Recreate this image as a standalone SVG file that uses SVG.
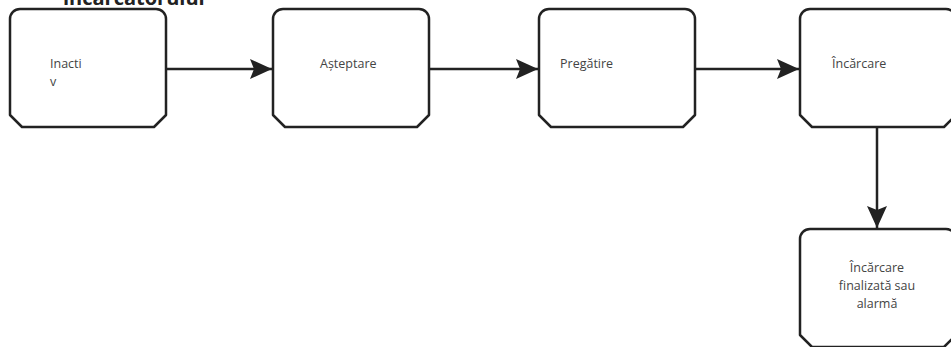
<svg xmlns="http://www.w3.org/2000/svg" width="951" height="347" viewBox="0 0 951 347">
<defs>
<style>
.box{fill:#fff;stroke:#222;stroke-width:2.5;stroke-linejoin:round}
.lbl{font-family:"Open Sans","Noto Sans",sans-serif;font-size:12.5px;fill:#444}
.title{font-family:"Open Sans","Noto Sans",sans-serif;font-size:20px;font-weight:bold;fill:#222}
.edge{stroke:#222;stroke-width:2.5;fill:none}
</style>
<marker id="ah" markerUnits="userSpaceOnUse" markerWidth="24" markerHeight="22" refX="22" refY="10" orient="auto" viewBox="0 0 24 22">
<path d="M0,0 L22,10 L0,20 L4,10 Z" fill="#222"/>
</marker>
</defs>
<text class="title" x="63" y="5">încărcătorului</text>
<g id="edges">
<line class="edge" x1="166" y1="69" x2="272" y2="69" marker-end="url(#ah)"/>
<line class="edge" x1="429" y1="69" x2="538" y2="69" marker-end="url(#ah)"/>
<line class="edge" x1="695" y1="69" x2="799" y2="69" marker-end="url(#ah)"/>
<line class="edge" x1="877" y1="127" x2="877" y2="228" marker-end="url(#ah)"/>
</g>
<g id="inactiv">
<path class="box" d="M10,19 A10,10 0 0 1 20,9 H156 A10,10 0 0 1 166,19 V115 L154,127 H22 L10,115 Z"/>
<text class="lbl" x="50" y="68">Inacti</text>
<text class="lbl" x="50" y="86">v</text>
</g>
<g id="asteptare">
<path class="box" d="M273,19 A10,10 0 0 1 283,9 H419 A10,10 0 0 1 429,19 V115 L417,127 H285 L273,115 Z"/>
<text class="lbl" x="320" y="68">Așteptare</text>
</g>
<g id="pregatire">
<path class="box" d="M539,19 A10,10 0 0 1 549,9 H685 A10,10 0 0 1 695,19 V115 L683,127 H551 L539,115 Z"/>
<text class="lbl" x="560" y="68">Pregătire</text>
</g>
<g id="incarcare">
<path class="box" d="M800,19 A10,10 0 0 1 810,9 H946 A10,10 0 0 1 956,19 V115 L944,127 H812 L800,115 Z"/>
<text class="lbl" x="832" y="68">Încărcare</text>
</g>
<g id="finalizata">
<path class="box" d="M800,239 A10,10 0 0 1 810,229 H946 A10,10 0 0 1 956,239 V335 L944,347 H812 L800,335 Z"/>
<text class="lbl" x="877" y="272" text-anchor="middle">Încărcare</text>
<text class="lbl" x="877" y="290" text-anchor="middle">finalizată sau</text>
<text class="lbl" x="877" y="308" text-anchor="middle">alarmă</text>
</g>
</svg>
